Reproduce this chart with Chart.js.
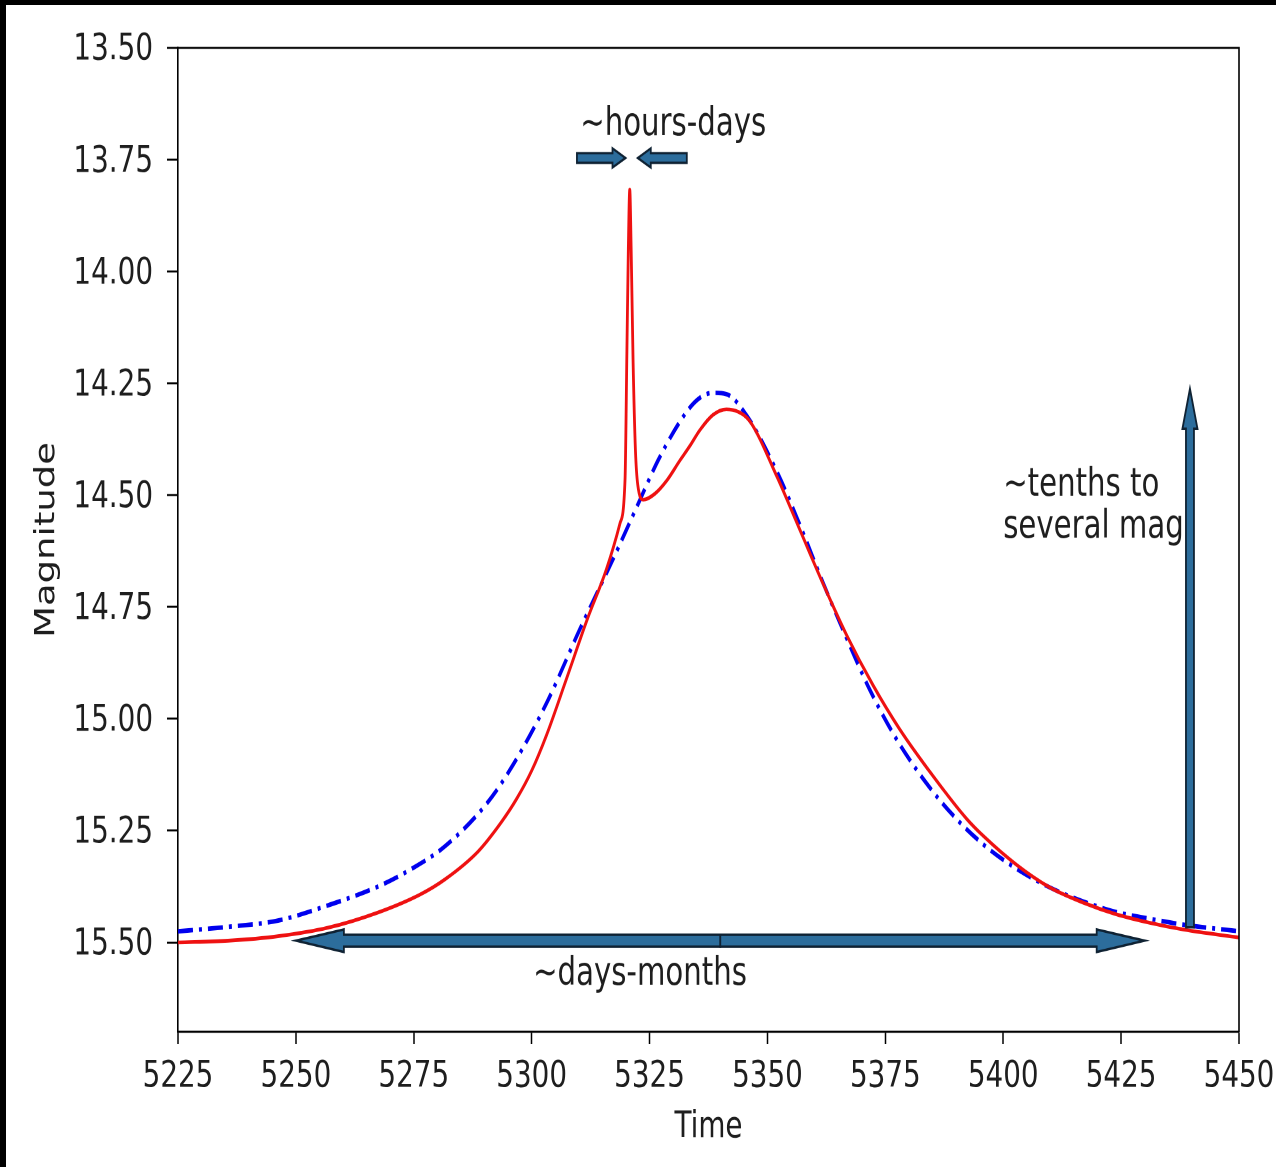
<!DOCTYPE html>
<html><head><meta charset="utf-8">
<script src="https://cdn.jsdelivr.net/npm/chart.js@4.4.0/dist/chart.umd.min.js"></script>
<style>
html,body{margin:0;padding:0;background:#fff;overflow:hidden;width:1276px;height:1167px;}
#wrap{position:absolute;left:0;top:0;width:1276px;height:877px;transform:scaleY(1.33067);transform-origin:0 0;}
#wrap canvas{display:block;}
.bl{position:absolute;background:#000;}
</style></head><body>
<div id="wrap"><canvas id="c" width="1276" height="877"></canvas></div>
<div class="bl" style="left:0;top:0;width:1276px;height:5px"></div>
<div class="bl" style="left:0;top:0;width:6px;height:1167px"></div>
<script>
// ---- data ----
const xTicks = [5225, 5250, 5275, 5300, 5325, 5350, 5375, 5400, 5425, 5450];
const yTicks = [13.50, 13.75, 14.00, 14.25, 14.50, 14.75, 15.00, 15.25, 15.50];

const redTime = [5225, 5235.6, 5246.2, 5256.8, 5267.4, 5276.3, 5281.6, 5288.6, 5293.5, 5296.8, 5300.0, 5303.2, 5307.4, 5311.7, 5315.9, 5318.7, 5319.8, 5320.2, 5320.5, 5320.8, 5321.1, 5321.5, 5322.0, 5322.5, 5323.7, 5326.1, 5328.6, 5331.4, 5333.6, 5335.7, 5338.5, 5341.3, 5343.7, 5346.3, 5352.0, 5356.9, 5361.8, 5366.8, 5372.4, 5378.1, 5385.2, 5392.2, 5395.8, 5402.8, 5409.9, 5417.0, 5424.0, 5431.1, 5438.2, 5450];
const redMag  = [15.500, 15.496, 15.486, 15.467, 15.433, 15.393, 15.359, 15.297, 15.232, 15.179, 15.116, 15.035, 14.910, 14.780, 14.664, 14.564, 14.465, 14.175, 13.951, 13.817, 13.951, 14.197, 14.398, 14.477, 14.510, 14.497, 14.468, 14.423, 14.389, 14.354, 14.320, 14.308, 14.313, 14.335, 14.458, 14.578, 14.698, 14.813, 14.925, 15.024, 15.129, 15.223, 15.262, 15.326, 15.377, 15.411, 15.437, 15.456, 15.471, 15.489];

const blueTime = [5225, 5235.6, 5246.2, 5256.8, 5267.4, 5274.6, 5281.6, 5290.5, 5296.1, 5303.2, 5310.2, 5317.3, 5322.3, 5327.2, 5332.9, 5335.7, 5338.5, 5341.3, 5345.6, 5352.0, 5356.9, 5361.8, 5366.8, 5371.7, 5377.4, 5383.8, 5389.4, 5395.8, 5402.8, 5409.9, 5416.9, 5424.0, 5431.1, 5438.1, 5450];
const blueMag  = [15.475, 15.465, 15.451, 15.417, 15.375, 15.335, 15.285, 15.189, 15.102, 14.964, 14.800, 14.642, 14.526, 14.414, 14.313, 14.282, 14.271, 14.274, 14.322, 14.447, 14.567, 14.696, 14.820, 14.935, 15.046, 15.145, 15.216, 15.281, 15.335, 15.377, 15.408, 15.432, 15.447, 15.460, 15.475];

// annotation anchors (data units)
const hArrows = [
  {from: [5340, 15.496], to: [5250, 15.496], shaft: 4.5, head: 8.5, headLen: 48},
  {from: [5340, 15.496], to: [5430, 15.496], shaft: 4.5, head: 8.5, headLen: 48},
  {from: [5309.6, 13.746], to: [5319.9, 13.746], shaft: 3.6, head: 7.2, headLen: 13},
  {from: [5332.9, 13.746], to: [5322.5, 13.746], shaft: 3.6, head: 7.2, headLen: 13}
];
const vArrows = [
  {from: [5439.6, 15.466], to: [5439.6, 14.262], shaft: 4, head: 7.5, headLen: 30}
];
const labels = [
  {text: '~hours-days', at: [5310.3, 13.672], align: 'left'},
  {text: '~days-months', at: [5300.3, 15.572], align: 'left'},
  {text: '~tenths to', at: [5400.0, 14.478], align: 'left'},
  {text: 'several mag', at: [5400.0, 14.572], align: 'left'}
];

const FONT = 'DejaVu Sans';
const FS = 27.8;
const AFS = 29.2;
const TXT = '#1e1e1e';

function arrow(ctx, x1, y1, x2, y2, sh, hh, hl) {
  const dx = x2 - x1, dy = y2 - y1, L = Math.hypot(dx, dy);
  const ux = dx / L, uy = dy / L, nx = -uy, ny = ux;
  const bx = x2 - ux * hl, by = y2 - uy * hl;
  const pts = [
    [x1 + nx * sh, y1 + ny * sh], [bx + nx * sh, by + ny * sh], [bx + nx * hh, by + ny * hh],
    [x2, y2], [bx - nx * hh, by - ny * hh], [bx - nx * sh, by - ny * sh], [x1 - nx * sh, y1 - ny * sh]
  ];
  ctx.beginPath();
  ctx.moveTo(pts[0][0], pts[0][1]);
  for (let i = 1; i < pts.length; i++) ctx.lineTo(pts[i][0], pts[i][1]);
  ctx.closePath();
  ctx.fillStyle = '#2c6d9c';
  ctx.fill();
  ctx.lineWidth = 1.8;
  ctx.strokeStyle = '#0f2233';
  ctx.lineJoin = 'miter';
  ctx.stroke();
}

const annot = {
  id: 'annot',
  afterDatasetsDraw(chart) {
    const {ctx, scales: {x, y}, chartArea: a} = chart;
    ctx.save();
    hArrows.concat(vArrows).forEach(r => {
      arrow(ctx, x.getPixelForValue(r.from[0]), y.getPixelForValue(r.from[1]),
        x.getPixelForValue(r.to[0]), y.getPixelForValue(r.to[1]), r.shaft, r.head, r.headLen);
    });
    ctx.fillStyle = TXT;
    ctx.font = AFS + 'px "' + FONT + '"';
    ctx.textBaseline = 'middle';
    labels.forEach(l => {
      ctx.textAlign = l.align;
      ctx.fillText(l.text, x.getPixelForValue(l.at[0]), y.getPixelForValue(l.at[1]));
    });
    // top & right spines
    ctx.strokeStyle = '#000';
    ctx.lineWidth = 1.6;
    ctx.beginPath();
    ctx.moveTo(a.left, a.top);
    ctx.lineTo(a.right, a.top);
    ctx.lineTo(a.right, a.bottom);
    ctx.stroke();
    ctx.restore();
  }
};

new Chart(document.getElementById('c'), {
  type: 'line',
  data: {
    datasets: [
      {
        label: 'planet',
        data: redTime.map((t, i) => ({x: t, y: redMag[i]})),
        borderColor: '#ee1111',
        borderWidth: 2.8,
        pointRadius: 0,
        cubicInterpolationMode: 'monotone',
        fill: false
      },
      {
        label: 'single lens',
        data: blueTime.map((t, i) => ({x: t, y: blueMag[i]})),
        borderColor: '#0000ee',
        borderWidth: 3.4,
        borderDash: [15, 6, 3, 6],
        pointRadius: 0,
        cubicInterpolationMode: 'monotone',
        fill: false
      }
    ]
  },
  options: {
    responsive: false,
    devicePixelRatio: 2,
    animation: false,
    layout: {padding: {left: 0, top: 36, right: 37, bottom: 0}},
    plugins: {legend: {display: false}, tooltip: {enabled: false}},
    scales: {
      x: {
        type: 'linear', min: 5225, max: 5450,
        afterBuildTicks: s => { s.ticks = xTicks.map(v => ({value: v})); },
        afterFit: s => { s.height = 101.5; s.paddingLeft = 0; s.paddingRight = 0; },
        grid: {drawOnChartArea: false, drawTicks: true, tickLength: 9, tickColor: '#000', tickWidth: 1.5},
        border: {display: true, color: '#000', width: 1.6},
        ticks: {color: TXT, font: {family: FONT, size: FS}, padding: 8, maxRotation: 0, autoSkip: false,
          callback: v => String(v)},
        title: {display: true, text: 'Time', color: TXT, font: {family: FONT, size: FS}, padding: {top: 0, bottom: 13}}
      },
      y: {
        type: 'linear', min: 13.5, max: 15.7, reverse: true,
        afterBuildTicks: s => { s.ticks = yTicks.map(v => ({value: v})); },
        afterFit: s => { s.width = 178; s.paddingTop = 0; s.paddingBottom = 0; },
        grid: {drawOnChartArea: false, drawTicks: true, tickLength: 11, tickColor: '#000', tickWidth: 1.5},
        border: {display: true, color: '#000', width: 1.6},
        ticks: {color: TXT, font: {family: FONT, size: FS}, padding: 14, autoSkip: false, labelOffset: 1.5,
          callback: v => Number(v).toFixed(2)},
        title: {display: true, text: 'Magnitude', color: TXT, font: {family: FONT, size: FS}, padding: {top: 30, bottom: 0}}
      }
    }
  },
  plugins: [annot]
});
</script>
</body></html>
